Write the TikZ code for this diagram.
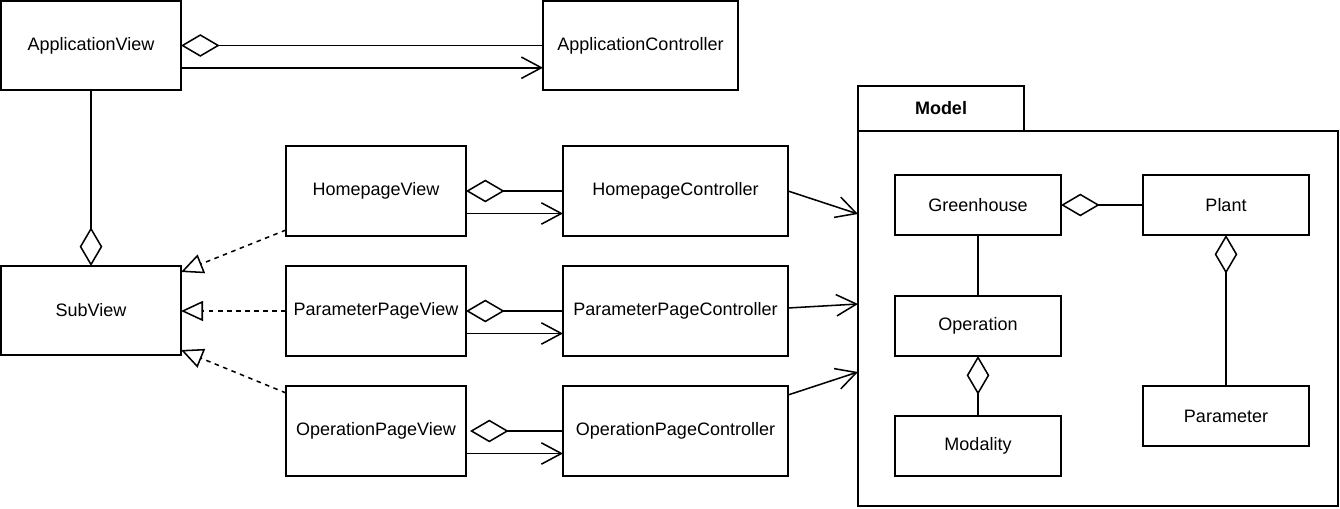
\documentclass[tikz,border=0pt]{standalone}
\usepackage{fontspec}
\setmainfont{Liberation Sans}
\usetikzlibrary{arrows.meta,calc}
\tikzset{
  umlbox/.style={draw, rectangle, inner sep=0pt, outer sep=0pt, line width=1.15pt, align=center,
     font=\fontsize{13.5pt}{16pt}\selectfont},
  conn/.style={line width=1.15pt},
  agg/.style={conn, {Diamond[open,length=29pt,width=17pt,line width=1.15pt]}-},
  assoc/.style={conn, -{Straight Barb[length=15pt,width=16pt,line width=1.15pt]}},
  realz/.style={conn, dash pattern=on 3.4pt off 3.4pt, -{Triangle[open,length=16.5pt,width=15pt,line width=1.15pt]}},
}
\newcommand\umlbox[6]{\node[umlbox, minimum width={(#4-#2)*0.75pt}, minimum height={(#5-#3)*0.75pt}] (#1) at ({(#2+#4)/2},{(#3+#5)/2}) {#6};}
\begin{document}
\begin{tikzpicture}[x=0.75pt,y=-0.75pt]
\useasboundingbox (0,0) rectangle (1340,509);
% view/controller boxes
\umlbox{av}{1}{1}{181}{90}{ApplicationView}
\umlbox{ac}{543}{1}{738}{90}{ApplicationController}
\umlbox{sv}{1}{266}{181}{355}{SubView}
\umlbox{hv}{286}{146}{466}{236}{HomepageView}
\umlbox{hc}{563}{146}{788}{236}{HomepageController}
\umlbox{pv}{286}{266}{466}{356}{ParameterPageView}
\umlbox{pc}{563}{266}{788}{356}{ParameterPageController}
\umlbox{ov}{286}{386}{466}{476}{OperationPageView}
\umlbox{oc}{563}{386}{788}{476}{OperationPageController}
% model package
\umlbox{tab}{858}{86}{1024}{131}{\bfseries Model}
\umlbox{body}{858}{131}{1338}{506}{}
\umlbox{gh}{895}{175}{1061}{235}{Greenhouse}
\umlbox{pl}{1143}{175}{1309}{235}{Plant}
\umlbox{op}{895}{296}{1061}{356}{Operation}
\umlbox{mo}{895}{416}{1061}{476}{Modality}
\umlbox{pa}{1143}{386}{1309}{446}{Parameter}
% application view / controller
\draw[agg] (av.east) -- (ac.west);
\path ($(av.east)!.5!(av.south east)$) coordinate (a1);
\draw[assoc] (a1) -- (a1 -| ac.west);
\draw[agg] (sv.north) -- (av.south);
% page views / controllers
\draw[agg] (hv.east) -- (hc.west);
\path ($(hv.east)!.5!(hv.south east)$) coordinate (h1);
\draw[assoc] (h1) -- (h1 -| hc.west);
\draw[agg] (pv.east) -- (pc.west);
\path ($(pv.east)!.5!(pv.south east)$) coordinate (p1);
\draw[assoc] (p1) -- (p1 -| pc.west);
\draw[agg, shorten <=3pt] (ov.east) -- (oc.west);
\path ($(ov.east)!.5!(ov.south east)$) coordinate (o1);
\draw[assoc] (o1) -- (o1 -| oc.west);
% realizations
\draw[realz] ([yshift=4.5pt]hv.south west) -- ([yshift=-4.5pt]sv.north east);
\draw[realz] (pv.west) -- (pv.west -| sv.east);
\draw[realz] ([yshift=-5.25pt]ov.north west) -- ([yshift=3.75pt]sv.south east);
% controllers to model
\draw[assoc] (hc.east) -- ($(body.north west)+(0,83)$);
\draw[assoc] ([yshift=2.25pt]pc.east) -- ($(body.north west)+(0,173)$);
\draw[assoc] ([yshift=-6.75pt]oc.north east) -- ($(body.north west)+(0,241)$);
% model internals
\draw[agg] (gh.east) -- (pl.west);
\draw[conn] (gh.south) -- (op.north);
\draw[agg] (op.south) -- (mo.north);
\draw[agg] (pl.south) -- (pa.north);
\end{tikzpicture}
\end{document}
